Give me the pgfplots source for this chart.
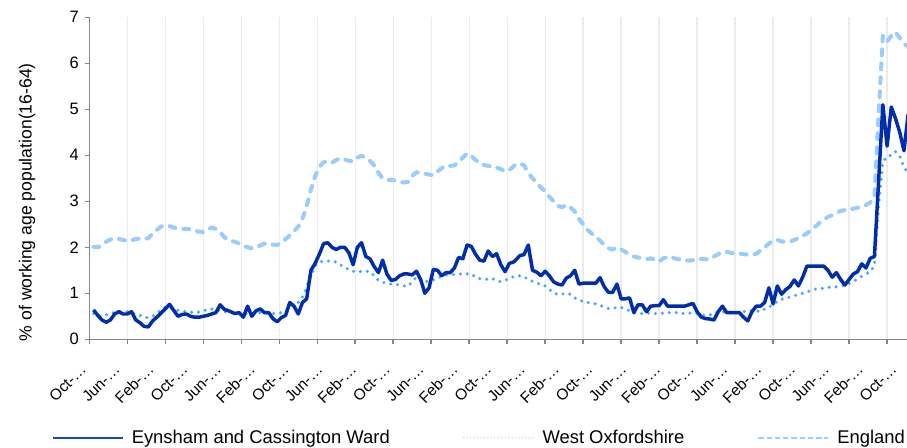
\documentclass[border=0pt]{standalone}
\usepackage{fontspec}
\setmainfont{Liberation Sans}
\usepackage{pgfplots}
\pgfplotsset{compat=1.18}
\definecolor{eyn}{RGB}{0,45,170}
\definecolor{wox}{RGB}{77,166,255}
\definecolor{eng}{RGB}{153,204,255}
\definecolor{axgray}{RGB}{134,134,134}
\definecolor{grgray}{RGB}{236,236,236}
\definecolor{woxleg}{RGB}{195,222,255}
\definecolor{eynleg}{RGB}{20,70,200}
\begin{document}
\begin{tikzpicture}
\path[use as bounding box] (0,0) rectangle (680.25pt,336pt);
\begin{axis}[
  at={(66.975pt,81.525pt)}, anchor=south west,
  scale only axis, width=613.275pt, height=241.5pt,
  xmin=0, xmax=193.72, ymin=0, ymax=7,
  axis x line*=bottom, axis y line*=left,
  axis line style={draw=axgray, line width=1.1pt, -},
  tick align=outside, major tick length=3.2pt,
  tick style={draw=axgray, line width=1.1pt},
  ytick={0,1,...,7},
  yticklabel style={font=\fontsize{12.4}{14}\selectfont, inner sep=0pt, xshift=-4.5pt},
  /pgf/number format/assume math mode=true,
  xtick={0,9,...,189},
  xticklabel=\empty,
  xmajorgrids=true,
  grid style={draw=grgray, line width=1pt},
  extra x ticks={0,8,...,192},
  extra x tick labels={Oct-…,Jun-…,Feb-…,Oct-…,Jun-…,Feb-…,Oct-…,Jun-…,Feb-…,Oct-…,Jun-…,Feb-…,Oct-…,Jun-…,Feb-…,Oct-…,Jun-…,Feb-…,Oct-…,Jun-…,Feb-…,Oct-…,Jun-…,Feb-…,Oct-…},
  extra x tick style={grid=none, major tick length=0pt,
    xticklabel style={font=\fontsize{11.6}{13}\selectfont, inner sep=0pt, anchor=east, yshift=-20.5pt, xshift=-4.3pt, rotate=45}},
  ylabel={\% of working age population(16-64)},
  ylabel style={font=\fontsize{13.2}{15}\selectfont, at={(axis description cs:-0.0762,0.426)}, anchor=center},
  legend columns=3,
  legend cell align=left,
  legend style={draw=none, fill=none, inner sep=0pt, outer sep=0pt,
    at={(axis description cs:-0.0456,-0.3056)}, anchor=west,
    font=\fontsize{13.8}{16}\selectfont,
    nodes={inner sep=0pt},
    /tikz/every odd column/.append style={column sep=6pt},
    /tikz/every even column/.append style={column sep=54.75pt}},
]
\addplot[forget plot, eng, line width=3pt, line cap=round, line join=round, dash pattern=on 4.5pt off 6pt] coordinates {
(1,2.01)(2,2.0)(3,2.04)(4,2.12)(5,2.17)(6,2.19)(7,2.18)(8,2.16)(9,2.14)(10,2.15)(11,2.18)(12,2.19)(13,2.18)(14,2.2)(15,2.3)(16,2.38)(17,2.45)(18,2.48)(19,2.46)(20,2.43)(21,2.41)(22,2.4)(23,2.4)(24,2.39)(25,2.36)(26,2.34)(27,2.33)(28,2.38)(29,2.43)(30,2.4)(31,2.33)(32,2.22)(33,2.15)
(34.5,2.12)(35.5,2.08)(36.5,2.03)(37.5,2.0)(38.5,1.98)(39.5,2.0)(40.5,2.04)(41.5,2.08)(42.5,2.08)(43.5,2.06)(44.5,2.05)(45.5,2.1)(46.5,2.18)(47.5,2.26)(48.5,2.35)(49.5,2.45)(50.5,2.62)(51.5,2.9)(52.5,3.25)(53.5,3.55)(54.5,3.75)(55.5,3.85)(56.5,3.87)(57.5,3.84)(58.5,3.9)(59.5,3.93)(60.5,3.91)(61.5,3.88)(62.5,3.87)(63.5,3.95)(64.5,3.99)
(65.5,3.95)(66.5,3.88)(67.5,3.78)(68.5,3.62)(69.5,3.5)(70.5,3.46)(71.5,3.47)(72.5,3.45)(73.5,3.42)(74.5,3.41)(75.5,3.42)(76.5,3.55)(77.5,3.63)(78.5,3.62)(79.5,3.6)(80.5,3.58)(81.5,3.57)(82.5,3.65)(83.5,3.72)(84.5,3.78)(85.5,3.77)(86.5,3.78)(87.5,3.86)(88.5,3.95)(89.5,4.04)(90.5,3.98)(91.5,3.9)(92.5,3.83)(93.5,3.79)(94.5,3.77)(95.5,3.76)(96.5,3.73)(97.5,3.7)(98.5,3.65)(99.5,3.68)
(101,3.8)(102,3.82)(103,3.78)(104,3.62)(105,3.5)(106,3.4)(107,3.3)(108,3.22)(109,3.1)(110,3.0)(111,2.9)(112,2.87)(113,2.92)(114,2.87)(115,2.78)(116,2.62)(117,2.5)(118,2.38)(119,2.3)(120,2.22)(121,2.15)(122,2.05)(123,1.98)(124,1.95)(125,2.0)(126,1.95)(127,1.9)(128,1.84)(129,1.8)(130,1.78)(131,1.76)
(132,1.74)(133,1.76)(134,1.73)(135,1.69)(136,1.76)(137,1.79)(138,1.78)(139,1.75)(140,1.73)(141,1.72)(142,1.71)(143,1.72)(144,1.73)(145,1.75)(146,1.74)(147,1.74)(148,1.8)(149,1.85)(150,1.9)(151,1.9)(152,1.88)(153,1.87)(154,1.86)(155,1.85)(156,1.84)(157,1.84)(158,1.86)(159,1.93)
(160,2.0)(161,2.08)(162,2.15)(163,2.16)(164,2.13)(165,2.11)(166,2.12)(167,2.16)(168,2.2)(169,2.25)(170,2.3)(171,2.37)(172,2.45)(173,2.53)(174,2.6)(175,2.66)(176,2.7)(177,2.75)(178,2.79)(179,2.81)(180,2.82)(181,2.84)(182,2.86)(183,2.88)(184,2.92)(185,2.97)(186,3.1)(187,4.9)(188,6.6)(189,6.47)(190,6.6)(191,6.68)(192,6.55)(193,6.43)(194,6.35)
};
\addplot[forget plot, wox, line width=2.6pt, line cap=round, dash pattern=on 0pt off 5.2pt] coordinates {
(1,0.56)(2,0.52)(3,0.5)(4,0.53)(5,0.56)(6,0.58)(7,0.6)(8,0.6)(9,0.6)(10,0.57)(11,0.55)(12,0.52)(13,0.48)(14,0.47)(15,0.5)(16,0.56)(17,0.64)(18,0.7)(19,0.69)(20,0.66)(21,0.63)(22,0.61)(23,0.6)(24,0.59)(25,0.58)(26,0.59)(27,0.62)(28,0.65)(29,0.66)(30,0.65)(31,0.62)(32,0.6)(33,0.59)
(34.5,0.58)(35.5,0.56)(36.5,0.56)(37.5,0.55)(38.5,0.55)(39.5,0.56)(40.5,0.58)(41.5,0.57)(42.5,0.56)(43.5,0.56)(44.5,0.56)(45.5,0.58)(46.5,0.62)(47.5,0.7)(48.5,0.76)(49.5,0.8)(50.5,0.92)(51.5,1.12)(52.5,1.38)(53.5,1.6)(54.5,1.68)(55.5,1.7)(56.5,1.7)(57.5,1.7)(58.5,1.68)(59.5,1.62)(60.5,1.56)(61.5,1.52)(62.5,1.48)(63.5,1.46)(64.5,1.48)
(65.5,1.48)(66.5,1.47)(67.5,1.38)(68.5,1.28)(69.5,1.24)(70.5,1.22)(71.5,1.2)(72.5,1.2)(73.5,1.18)(74.5,1.16)(75.5,1.15)(76.5,1.25)(77.5,1.35)(78.5,1.3)(79.5,1.25)(80.5,1.27)(81.5,1.29)(82.5,1.33)(83.5,1.37)(84.5,1.4)(85.5,1.41)(86.5,1.41)(87.5,1.42)(88.5,1.42)(89.5,1.42)(90.5,1.42)(91.5,1.35)(92.5,1.32)(93.5,1.3)(94.5,1.31)(95.5,1.32)(96.5,1.28)(97.5,1.25)(98.5,1.28)(99.5,1.32)
(101,1.38)(102,1.38)(103,1.36)(104,1.3)(105,1.26)(106,1.22)(107,1.2)(108,1.16)(109,1.08)(110,1.02)(111,0.97)(112,0.98)(113,1.0)(114,0.98)(115,0.9)(116,0.86)(117,0.82)(118,0.8)(119,0.79)(120,0.77)(121,0.74)(122,0.7)(123,0.67)(124,0.67)(125,0.69)(126,0.69)(127,0.66)(128,0.62)(129,0.58)(130,0.56)(131,0.56)
(132,0.57)(133,0.57)(134,0.56)(135,0.56)(136,0.57)(137,0.58)(138,0.58)(139,0.58)(140,0.57)(141,0.56)(142,0.57)(143,0.57)(144,0.56)(145,0.53)(146,0.51)(147,0.53)(148,0.56)(149,0.6)(150,0.6)(151,0.58)(152,0.58)(153,0.58)(154,0.59)(155,0.6)(156,0.62)(157,0.62)(158,0.62)(159,0.6)
(160,0.66)(161,0.7)(162,0.76)(163,0.82)(164,0.87)(165,0.89)(166,0.92)(167,0.95)(168,0.97)(169,1.0)(170,1.03)(171,1.06)(172,1.09)(173,1.1)(174,1.11)(175,1.13)(176,1.13)(177,1.14)(178,1.15)(179,1.18)(180,1.21)(181,1.26)(182,1.31)(183,1.37)(184,1.42)(185,1.47)(186,1.6)(187,2.9)(188,3.85)(189,3.98)(190,4.0)(191,4.08)(192,3.98)(193,3.75)(194,3.6)
};
\addplot[forget plot, eyn, line width=2.6pt, line join=round] coordinates {
(1,0.64)(2,0.52)(3,0.42)(4,0.37)(5,0.42)(6,0.55)(7,0.6)(8,0.55)(9,0.55)(10,0.6)(11,0.42)(12,0.36)(13,0.28)(14,0.27)(15,0.4)(16,0.48)(17,0.57)(18,0.66)(19,0.76)(20,0.63)(21,0.5)(22,0.54)(23,0.55)(24,0.5)(25,0.48)(26,0.48)(27,0.5)(28,0.52)(29,0.55)(30,0.58)(31,0.75)(32,0.65)(33,0.62)
(34.5,0.56)(35.5,0.58)(36.5,0.48)(37.5,0.72)(38.5,0.5)(39.5,0.62)(40.5,0.66)(41.5,0.58)(42.5,0.58)(43.5,0.45)(44.5,0.38)(45.5,0.47)(46.5,0.52)(47.5,0.8)(48.5,0.72)(49.5,0.55)(50.5,0.8)(51.5,0.88)(52.5,1.5)(53.5,1.65)(54.5,1.85)(55.5,2.08)(56.5,2.1)(57.5,2.0)(58.5,1.95)(59.5,2.0)(60.5,2.0)(61.5,1.88)(62.5,1.62)(63.5,2.0)(64.5,2.1)
(65.5,1.8)(66.5,1.75)(67.5,1.58)(68.5,1.45)(69.5,1.72)(70.5,1.42)(71.5,1.28)(72.5,1.3)(73.5,1.38)(74.5,1.42)(75.5,1.42)(76.5,1.4)(77.5,1.48)(78.5,1.3)(79.5,1.0)(80.5,1.12)(81.5,1.52)(82.5,1.5)(83.5,1.38)(84.5,1.45)(85.5,1.45)(86.5,1.55)(87.5,1.78)(88.5,1.75)(89.5,2.05)(90.5,2.02)(91.5,1.85)(92.5,1.72)(93.5,1.7)(94.5,1.92)(95.5,1.8)(96.5,1.86)(97.5,1.62)(98.5,1.47)(99.5,1.65)
(100.5,1.68)(101,1.72)(102,1.82)(103,1.84)(104,2.05)(105,1.5)(106,1.46)(107,1.38)(108,1.48)(109,1.38)(110,1.25)(111,1.2)(112,1.18)(113,1.33)(114,1.38)(115,1.5)(116,1.2)(117,1.22)(118,1.22)(119,1.22)(120,1.22)(121,1.34)(122,1.14)(123,1.02)(124,1.02)(125,1.2)(126,0.88)(127,0.88)(128,0.9)(129,0.58)(130,0.75)(131,0.75)
(132,0.6)(133,0.72)(134,0.73)(135,0.73)(136,0.86)(137,0.72)(138,0.72)(139,0.72)(140,0.72)(141,0.72)(142,0.75)(143,0.78)(144,0.6)(145,0.48)(146,0.45)(147,0.44)(148,0.42)(149,0.6)(150,0.72)(151,0.58)(152,0.58)(153,0.58)(154,0.58)(155,0.48)(156,0.4)(157,0.6)(158,0.72)(159,0.72)
(160,0.8)(161,1.12)(162,0.77)(163,1.16)(164,0.98)(165,1.08)(166,1.15)(167,1.29)(168,1.16)(169,1.35)(170,1.59)(171,1.59)(172,1.59)(173,1.59)(174,1.59)(175,1.5)(176,1.35)(177,1.45)(178,1.3)(179,1.18)(180,1.3)(181,1.42)(182,1.47)(183,1.64)(184,1.55)(185,1.76)(186,1.8)(187,3.45)(188,5.1)(189,4.2)(190,5.05)(191,4.8)(192,4.5)(193,4.1)(194,4.9)
};
\addlegendimage{legend image code/.code={\draw[eynleg, line width=1.3pt] (0pt,0pt) -- (52.5pt,0pt);}}
\addlegendentry{Eynsham and Cassington Ward}
\addlegendimage{legend image code/.code={\draw[woxleg, line width=1.3pt, line cap=round, dash pattern=on 0pt off 2.6pt] (0pt,0pt) -- (52.5pt,0pt);}}
\addlegendentry{West Oxfordshire}
\addlegendimage{legend image code/.code={\draw[eng, line width=1.5pt, dash pattern=on 4pt off 2.2pt] (0pt,0pt) -- (52.5pt,0pt);}}
\addlegendentry{England}
\end{axis}
\end{tikzpicture}
\end{document}
